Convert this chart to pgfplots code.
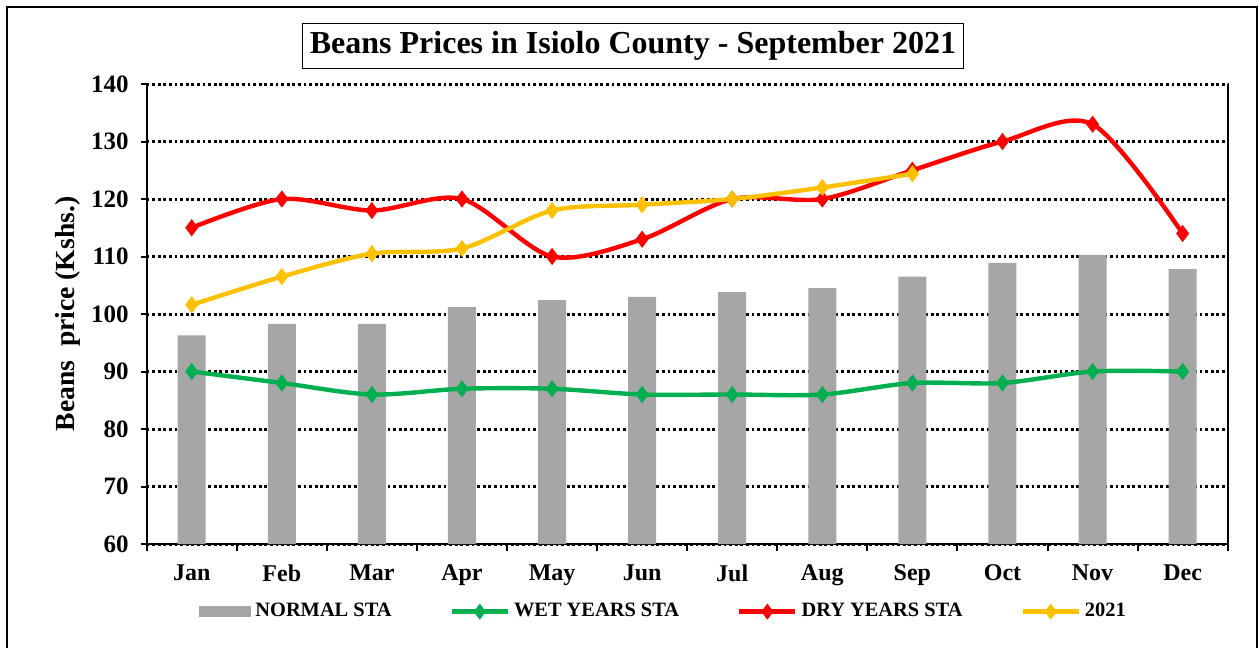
\documentclass[border=0pt]{standalone}
\usepackage{pgfplots}
\pgfplotsset{compat=1.18}
\usepackage{fontspec}
\setmainfont{Liberation Serif}
\definecolor{barg}{RGB}{166,166,166}
\definecolor{wetg}{RGB}{0,176,80}
\definecolor{dryr}{RGB}{255,0,0}
\definecolor{yel}{RGB}{255,192,0}
\begin{document}
\begin{tikzpicture}[x=1pt,y=1pt]
\useasboundingbox (-73.35,-52) rectangle (556.15,272);
\draw[line width=1pt] (-69.85,-60) -- (-69.85,268.5) -- (555.15,268.5) -- (555.15,-60);
\node[draw, line width=0.8pt, minimum width=330.5pt, minimum height=22.5pt, inner sep=0pt,
      font=\bfseries\fontsize{16}{19}\selectfont] at (243.15,249) {Beans Prices in Isiolo County - September 2021};
\begin{axis}[
  at={(0pt,0pt)}, anchor=south west,
  width=540.5pt, height=230pt, scale only axis,
  xmin=-0.5, xmax=11.5, ymin=60, ymax=140,
  ytick={60,70,...,140},
  xtick={0,...,11},
  xticklabels={Jan,Feb,Mar,Apr,May,Jun,Jul,Aug,Sep,Oct,Nov,Dec},
  minor xtick={-0.5,0.5,...,11.5},
  tick align=outside,
  axis x line*=bottom,
  x axis line style={-},
  ytick pos=left,
  major x tick style={draw=none},
  minor x tick style={black, line width=1pt},
  major y tick style={black, line width=1pt},
  minor tick length=3.3pt,
  major tick length=3pt,
  ymajorgrids,
  major grid style={black, line width=1.5pt, dash pattern=on 1.4pt off 1.4pt},
  axis line style={black, line width=1pt},
  /pgf/number format/assume math mode=true,
  yticklabel style={font=\bfseries\fontsize{12.5}{14}\selectfont, xshift=-2.5pt},
  xticklabel style={font=\bfseries\fontsize{12}{14}\selectfont, yshift=-4pt},
  ylabel={Beans\ \ price (Kshs.)},
  ylabel style={at={(axis description cs:-0.0728,0.5)}, anchor=center, font=\bfseries\fontsize{13.8}{16}\selectfont},
  legend columns=4,
  legend style={at={(0.0484,-0.147)}, anchor=west, draw=none, fill=none, inner sep=0pt,
    font=\bfseries\fontsize{10.2}{12}\selectfont,
    /tikz/every even column/.append style={column sep=27pt}},
]
\addplot[ybar, bar width=14pt, bar shift=0pt, fill=barg, draw=none,
  legend image code/.code={\fill[barg] (0pt,-2.9pt) rectangle (26pt,2.9pt);}]
  coordinates {(0,96.3) (1,98.3) (2,98.3) (3,101.2) (4,102.4) (5,103.0) (6,103.8) (7,104.5) (8,106.5) (9,108.9) (10,110.3) (11,107.8)};
\addlegendentry{NORMAL STA}
\addplot[wetg, line width=2.2pt, smooth, tension=0.5, mark=diamond*, mark size=2.5pt, mark options={solid, fill=wetg},
  legend image code/.code={\draw[wetg, line width=2.2pt, mark=diamond*, mark size=2.2pt, mark options={solid, fill=wetg}, mark repeat=2, mark phase=2] plot coordinates {(0pt,0pt) (14pt,0pt) (28pt,0pt)};}]
  coordinates {(0,90) (1,88) (2,86) (3,87) (4,87) (5,86) (6,86) (7,86) (8,88) (9,88) (10,90) (11,90)};
\addlegendentry{WET YEARS STA}
\addplot[dryr, line width=2.2pt, smooth, tension=0.5, mark=diamond*, mark size=2.5pt, mark options={solid, fill=dryr},
  legend image code/.code={\draw[dryr, line width=2.2pt, mark=diamond*, mark size=2.2pt, mark options={solid, fill=dryr}, mark repeat=2, mark phase=2] plot coordinates {(0pt,0pt) (14pt,0pt) (28pt,0pt)};}]
  coordinates {(0,115) (1,120) (2,118) (3,120) (4,110) (5,113) (6,120) (7,120) (8,125) (9,130) (10,133) (11,114)};
\addlegendentry{DRY YEARS STA}
\addplot[yel, line width=2.2pt, smooth, tension=0.5, mark=diamond*, mark size=2.5pt, mark options={solid, fill=yel},
  legend image code/.code={\draw[yel, line width=2.2pt, mark=diamond*, mark size=2.2pt, mark options={solid, fill=yel}, mark repeat=2, mark phase=2] plot coordinates {(0pt,0pt) (14pt,0pt) (28pt,0pt)};}]
  coordinates {(0,101.6) (1,106.5) (2,110.5) (3,111.4) (4,118) (5,119) (6,120) (7,122) (8,124.4)};
\addlegendentry{2021}
\end{axis}
\end{tikzpicture}
\end{document}
